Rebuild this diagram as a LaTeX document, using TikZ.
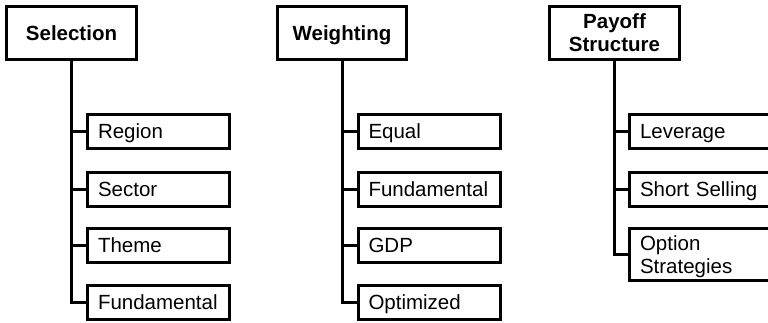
\documentclass[tikz,border=0pt]{standalone}
\usepackage{fontspec}
\setmainfont{Liberation Sans}
\begin{document}
\begin{tikzpicture}[x=1pt,y=-1pt,
  every node/.style={font=\fontsize{20.5}{23}\selectfont},
  topbox/.style={draw=black,line width=3pt,minimum height=53pt,inner sep=0pt,align=center,font=\fontsize{20.5}{23}\selectfont\bfseries},
  topone/.style={topbox,text height=14.7pt,text depth=0pt},
  leafbox/.style={draw=black,line width=3pt,minimum height=34pt,inner xsep=10.5pt,inner ysep=0pt,text width=121pt,align=left,text height=14.7pt,text depth=0pt},
  leaftwo/.style={draw=black,line width=3pt,minimum height=52pt,inner xsep=10.5pt,inner ysep=0pt,text width=121pt,align=left},
  conn/.style={line width=3pt,line join=miter}]
\useasboundingbox (0,0) rectangle (768,322);
\clip (0,0) rectangle (768,322);
% column 1
\node[topone,minimum width=130pt] (sel) at (71.5,33) {Selection};
\node[leafbox] (s1) at (158.5,131.5) {Region};
\node[leafbox] (s2) at (158.5,189) {Sector};
\node[leafbox] (s3) at (158.5,245) {Theme};
\node[leafbox] (s4) at (158.5,302) {Fundamental};
\draw[conn] (sel.south) |- (s4.west);
\foreach \c in {s1,s2,s3} \draw[conn] (sel.south) |- (\c.west);
% column 2
\node[topone,minimum width=129pt] (wei) at (342,33) {Weighting};
\node[leafbox] (w1) at (429,131.5) {Equal};
\node[leafbox] (w2) at (429,189) {Fundamental};
\node[leafbox] (w3) at (429,245) {GDP};
\node[leafbox] (w4) at (429,302) {Optimized};
\draw[conn] (wei.south) |- (w4.west);
\foreach \c in {w1,w2,w3} \draw[conn] (wei.south) |- (\c.west);
% column 3
\node[topbox,minimum width=130pt] (pay) at (614.5,33) {Payoff\\Structure};
\node[leafbox] (p1) at (700.5,131.5) {Leverage};
\node[leafbox] (p2) at (700.5,189) {Short Selling};
\node[leaftwo] (p3) at (700.5,254.5) {\rule{0pt}{20pt}Option\\Strategies};
\draw[conn] (pay.south) |- (p3.west);
\foreach \c in {p1,p2} \draw[conn] (pay.south) |- (\c.west);
\end{tikzpicture}
\end{document}
